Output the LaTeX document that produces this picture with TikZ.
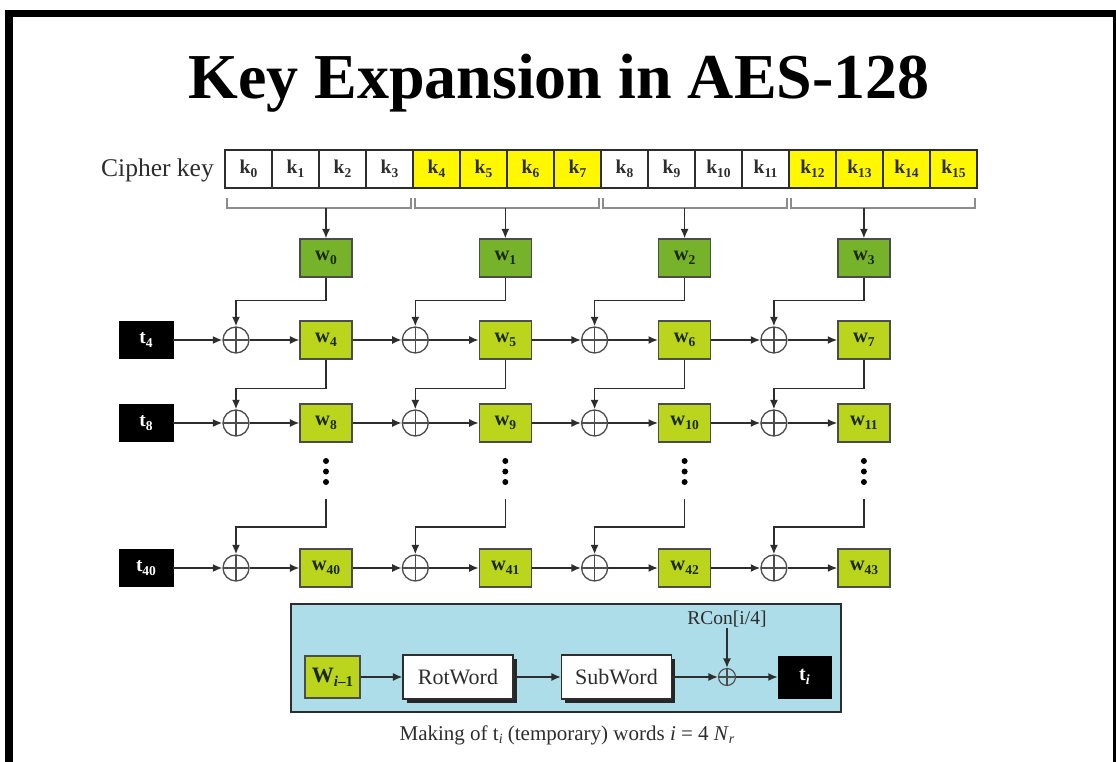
\documentclass[tikz,border=0pt]{standalone}
\usepackage{fontspec}
\setmainfont{Liberation Serif}
\usetikzlibrary{arrows.meta,shadows}

\definecolor{keyyellow}{RGB}{255,248,0}
\definecolor{wdark}{RGB}{118,178,42}
\definecolor{wlight}{RGB}{186,213,28}
\definecolor{panelblue}{RGB}{172,221,233}
\definecolor{ink}{RGB}{45,45,45}
\definecolor{bracketgray}{RGB}{140,140,140}
\definecolor{wtext}{RGB}{25,40,15}

\newcommand\fs[1]{\fontsize{#1}{#1}\selectfont}
\newcommand\lowsub[2][13.5]{\raisebox{-0.4ex}{\fs{#1}#2}}

\begin{document}
\begin{tikzpicture}[x=1pt,y=-1pt,
  >={Latex[length=9.5pt,width=8pt]},
  kcell/.style={draw=ink, line width=1.3pt, minimum width=47pt, minimum height=38pt,
    inner sep=0pt, font=\fs{19.5}\bfseries, text=ink},
  wbox/.style={draw=ink!85, line width=1.2pt, minimum width=52pt, minimum height=38pt,
    inner sep=0pt, font=\fs{20.5}\bfseries, text=wtext},
  tbox/.style={fill=black, draw=black, minimum width=54pt, minimum height=37pt,
    inner sep=0pt, text=white, font=\fs{19.5}\bfseries},
  xorgate/.style={circle, draw=ink!85, line width=1.3pt, minimum size=26pt, inner sep=0pt,
    path picture={\draw[ink!85, line width=1.3pt]
      (path picture bounding box.north) -- (path picture bounding box.south)
      (path picture bounding box.west) -- (path picture bounding box.east);}},
  procbox/.style={draw=ink, line width=1.2pt, fill=white, minimum width=110pt,
    minimum height=44pt, inner sep=0pt, font=\fs{22}, text=ink,
    drop shadow={shadow xshift=3.5pt, shadow yshift=-3.5pt, fill=black!85, opacity=1}},
  link/.style={draw=ink, line width=1.6pt, ->},
  brace/.style={draw=bracketgray, line width=1.5pt},
  dotmark/.style={fill=black, circle, inner sep=0pt, minimum size=6pt}
]
\useasboundingbox (0,0) rectangle (1116,762);
\clip (0,0) rectangle (1116,762);
\fill[white] (0,0) rectangle (1116,762);

% slide frame
\draw[line width=7.5pt] (9,800) -- (9,13.5) -- (1116.5,13.5) -- (1116.5,800);

% title
\node[anchor=base, font=\fs{64}\bfseries, inner sep=0pt] (title) at (559,99)
  {Key Expansion in AES-128};

% cipher key bytes
\node[anchor=east, font=\fs{25.5}, text=ink, inner sep=0pt] (cklabel) at (214,170) {Cipher key};
\foreach \i in {0,...,15}{
  \pgfmathtruncatemacro\g{floor(\i/4)}
  \ifodd\g \def\cf{keyyellow}\else\def\cf{white}\fi
  \node[kcell, fill=\cf] (k\i) at ({248.5+47*\i},169) {k\lowsub{\i}};
}

% grouping brackets and the first four words
\foreach \g in {0,...,3}{
  \pgfmathsetmacro\bl{227+188*\g}
  \pgfmathsetmacro\br{223+188*(\g+1)}
  \pgfmathsetmacro\wx{326+179.3*\g}
  \draw[brace] (\bl,198) -- (\bl,208) -- (\br,208) -- (\br,198);
  \coordinate (b\g) at (\wx,208);
  \node[wbox, fill=wdark] (w\g) at (\wx,258) {w\lowsub{\g}};
  \draw[link] (b\g) -- (w\g);
}

% rows of derived words
\node[tbox] (t4) at (146,340) {t\lowsub{4}};
\node[tbox] (t8) at (146,423) {t\lowsub{8}};
\node[tbox] (t40) at (146,568) {t\lowsub{40}};

\foreach \j in {0,...,3}{
  \pgfmathsetmacro\xx{236+179.3*\j}
  \pgfmathsetmacro\wx{326+179.3*\j}
  \pgfmathtruncatemacro\a{4+\j}
  \pgfmathtruncatemacro\b{8+\j}
  \pgfmathtruncatemacro\c{40+\j}
  \node[xorgate] (x\a) at (\xx,340) {};
  \node[wbox, fill=wlight] (w\a) at (\wx,340) {w\lowsub{\a}};
  \node[xorgate] (x\b) at (\xx,423) {};
  \node[wbox, fill=wlight] (w\b) at (\wx,423) {w\lowsub{\b}};
  \node[xorgate] (x\c) at (\xx,568) {};
  \node[wbox, fill=wlight] (w\c) at (\wx,568) {w\lowsub{\c}};
  % vertical ellipsis between rows
  \node[dotmark] (da\j) at (\wx,461) {};
  \node[dotmark] (db\j) at (\wx,471.5) {};
  \node[dotmark] (dc\j) at (\wx,482) {};
  \coordinate (d\j) at (\wx,499);
  % feedback from the word four positions back
  \draw[link] (w\j.south) -- ++(0,23) -| (x\a.north);
  \draw[link] (w\a.south) -- ++(0,29) -| (x\b.north);
  \draw[link] (d\j) -- ++(0,28) -| (x\c.north);
  % xor to word
  \draw[link] (x\a) -- (w\a);
  \draw[link] (x\b) -- (w\b);
  \draw[link] (x\c) -- (w\c);
}
\foreach \r in {4,8,40}{
  \draw[link] (t\r) -- (x\r);
}
\foreach \p/\q in {4/5,5/6,6/7,8/9,9/10,10/11,40/41,41/42,42/43}{
  \draw[link] (w\p) -- (x\q);
}

% making of the temporary words
\node[draw=ink, line width=2pt, fill=panelblue, minimum width=550pt, minimum height=108pt,
  inner sep=0pt] (panel) at (566,658) {};
\node[wbox, fill=wlight, minimum width=55pt, minimum height=42pt, font=\fs{22}\bfseries]
  (wim) at (332.5,677) {W\lowsub[15]{\itshape i\/\upshape–1}};
\node[procbox] (rot) at (458,677) {RotWord};
\node[procbox] (sub) at (616.5,677) {SubWord};
\node[xorgate, minimum size=17pt, line width=1.1pt] (xr) at (727,677) {};
\node[tbox, minimum width=53pt, minimum height=42pt, font=\fs{20}\bfseries]
  (ti) at (804.5,677) {t\lowsub[14]{\itshape i}};
\node[font=\fs{19.5}, text=ink, inner sep=1pt] (rcon) at (727,619) {RCon[i/4]};
\draw[link] (wim) -- (rot);
\draw[link] (rot) -- (sub);
\draw[link] (sub) -- (xr);
\draw[link] (xr) -- (ti);
\draw[link] (rcon) -- (xr);

\node[font=\fs{21}, text=ink, inner sep=0pt] (caption) at (567,735)
  {Making of t\lowsub[14]{\itshape i} (temporary) words \textit{i} = 4 \textit{N}\lowsub[14]{\itshape r}};
\end{tikzpicture}
\end{document}
